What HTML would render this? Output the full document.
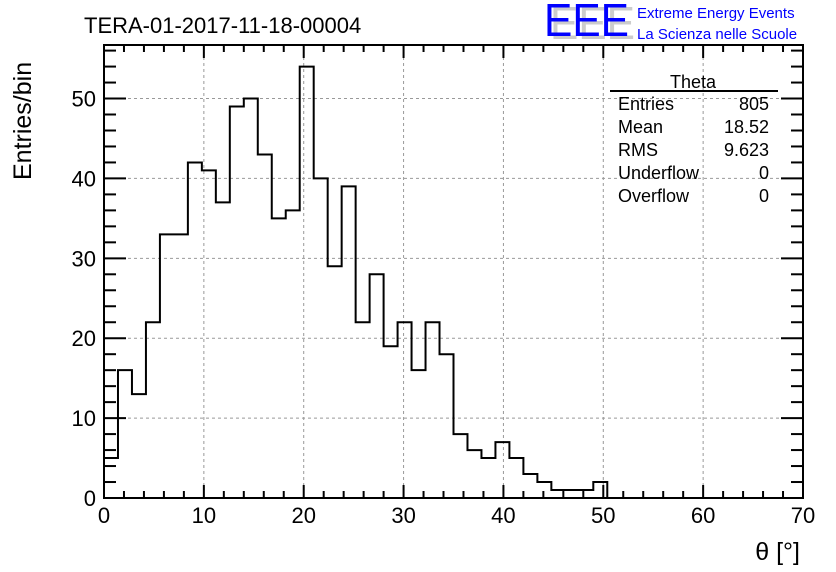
<!DOCTYPE html>
<html><head><meta charset="utf-8"><style>
body{margin:0;background:#fff}
svg{display:block;font-family:"Liberation Sans",Arial,sans-serif}
</style></head><body>
<svg id="c" width="836" height="572" viewBox="0 0 836 572">
<rect width="836" height="572" fill="#fff"/>
<g id="grid"></g>
<g id="ticks"></g>
<path id="hist" fill="none" stroke="#000" stroke-width="2"/>
<rect x="104" y="45" width="699" height="453" fill="none" stroke="#000" stroke-width="2"/>
<g id="labels" font-size="22"></g>
<text x="84" y="33" font-size="22">TERA-01-2017-11-18-00004</text>
<text x="800" y="560" font-size="25" text-anchor="end">θ [°]</text>
<text transform="translate(31,180) rotate(-90)" font-size="25" text-anchor="start">Entries/bin</text>
<g>
<text x="550" y="39" font-size="46" fill="#ccc" textLength="85" lengthAdjust="spacingAndGlyphs">EEE</text>
<text x="544" y="36" font-size="46" fill="#00f" textLength="85" lengthAdjust="spacingAndGlyphs">EEE</text>
<text x="637" y="18" font-size="15" fill="#00f">Extreme Energy Events</text>
<text x="637" y="39" font-size="15" fill="#00f">La Scienza nelle Scuole</text>
</g>
<g font-size="18">
<text x="693" y="88" text-anchor="middle">Theta</text>
<line x1="610" y1="91" x2="778" y2="91" stroke="#000" stroke-width="2"/>
<text x="618" y="110">Entries</text><text x="769" y="110" text-anchor="end">805</text>
<text x="618" y="133">Mean</text><text x="769" y="133" text-anchor="end">18.52</text>
<text x="618" y="156">RMS</text><text x="769" y="156" text-anchor="end">9.623</text>
<text x="618" y="179">Underflow</text><text x="769" y="179" text-anchor="end">0</text>
<text x="618" y="202">Overflow</text><text x="769" y="202" text-anchor="end">0</text>
</g>
</svg>
<script>
const binWidth = 1.4;
const counts = [5,16,13,22,33,33,42,41,37,49,50,43,35,36,54,40,29,39,22,28,19,22,16,22,18,8,6,5,7,5,3,2,1,1,1,2,0,0,0,0,0,0,0,0,0,0,0,0,0,0];
const xTicks = [0,10,20,30,40,50,60,70];
const yTicks = [0,10,20,30,40,50];
const NS = 'http://www.w3.org/2000/svg';
const X0=104,X1=803,Y0=498,Y1=45;
const xs = v => X0 + v/70*(X1-X0);
const ys = v => Y0 - v/56.7*(Y0-Y1);
function mk(tag, attrs, parent){const e=document.createElementNS(NS,tag);for(const k in attrs)e.setAttribute(k,attrs[k]);parent.appendChild(e);return e;}
const grid=document.getElementById('grid'), ticks=document.getElementById('ticks'), labels=document.getElementById('labels');
xTicks.forEach(v=>{
  if(v>0&&v<70){const l=mk('line',{x1:xs(v),x2:xs(v),y1:Y1,y2:Y0,stroke:'#999','stroke-dasharray':'3,3'},grid);
  
  }
  const t=mk('text',{x:xs(v),y:Y0+25,'text-anchor':'middle'},labels);t.textContent=v;
  
  
});
yTicks.forEach(v=>{
  if(v>0){const l=mk('line',{x1:X0,x2:X1,y1:ys(v),y2:ys(v),stroke:'#999','stroke-dasharray':'3,3'},grid);
  
  }
  const t=mk('text',{x:X0-8,y:ys(v)+8,'text-anchor':'end'},labels);t.textContent=v;
  
  
});
for(let v=0;v<=70;v+=2){const L=(v%10===0)?13:7;
  mk('line',{x1:xs(v),x2:xs(v),y1:Y0,y2:Y0-L,stroke:'#000','stroke-width':2},ticks);
  mk('line',{x1:xs(v),x2:xs(v),y1:Y1,y2:Y1+L,stroke:'#000','stroke-width':2},ticks);}
for(let v=0;v<=56;v+=2){const L=(v%10===0)?22:12;
  mk('line',{x1:X0,x2:X0+L,y1:ys(v),y2:ys(v),stroke:'#000','stroke-width':2},ticks);
  mk('line',{x1:X1,x2:X1-L,y1:ys(v),y2:ys(v),stroke:'#000','stroke-width':2},ticks);}
let d='M'+xs(0)+','+ys(0);
counts.forEach((c,i)=>{d+=' L'+xs(i*binWidth)+','+ys(c)+' L'+xs((i+1)*binWidth)+','+ys(c);});
document.getElementById('hist').setAttribute('d',d);
</script>
</body></html>
